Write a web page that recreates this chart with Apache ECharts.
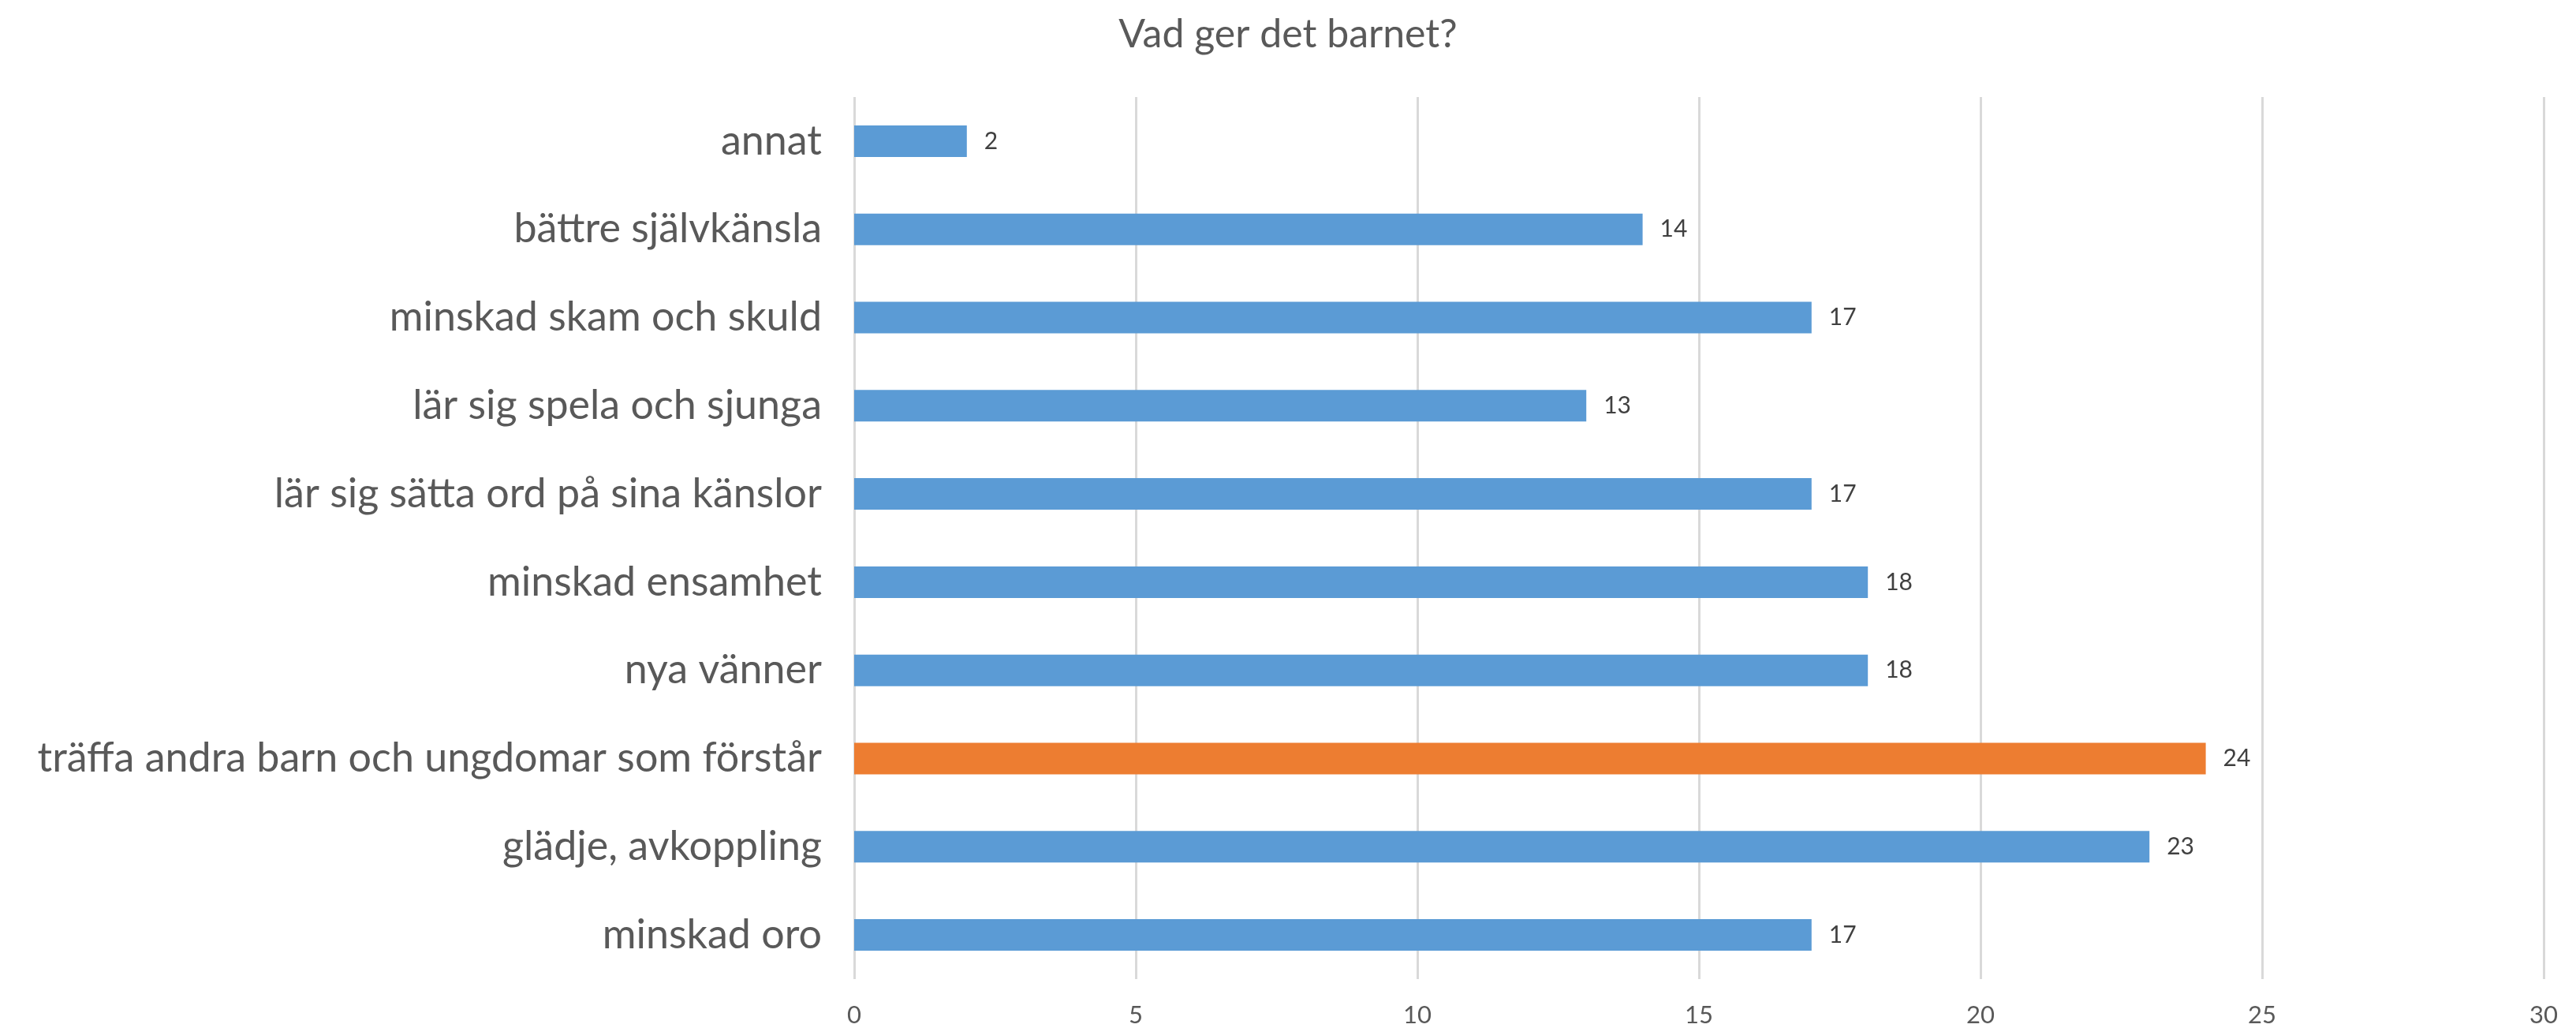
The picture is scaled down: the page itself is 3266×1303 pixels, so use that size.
<!DOCTYPE html>
<html>
	<head>
		<meta charset="utf-8">
		<script type="text/javascript" src="https://cdn.jsdelivr.net/npm/echarts@6/dist/echarts.min.js"></script>
		<style>
			html, body { margin: 0; padding: 0; background: #fff; }
		</style>
	</head>
	<body>
		<div id="main" style="width:3266px;height:1303px;"></div>

		<script type="text/javascript">
			// kategorier nerifrån och upp (som i diagrammet)
			var kategorier = [
				'minskad oro',
				'glädje, avkoppling',
				'träffa andra barn och ungdomar som förstår',
				'nya vänner',
				'minskad ensamhet',
				'lär sig sätta ord på sina känslor',
				'lär sig spela och sjunga',
				'minskad skam och skuld',
				'bättre självkänsla',
				'annat'
			];
			var antal = [17, 23, 24, 18, 18, 17, 13, 17, 14, 2];
			// den markerade stapeln
			var markerad = 'träffa andra barn och ungdomar som förstår';

			var font = 'Lato, "Noto Sans", sans-serif';
			var myChart = echarts.init(document.getElementById('main'));

			var option = {
				backgroundColor: '#fff',
				animation: false,
				title: {
					text: 'Vad ger det barnet?',
					left: 'center',
					top: 14,
					textStyle: {
						color: '#595959',
						fontFamily: font,
						fontWeight: 'normal',
						fontSize: 50
					}
				},
				grid: {
					left: 1083,
					right: 41,
					top: 123,
					bottom: 62
				},
				xAxis: {
					type: 'value',
					min: 0,
					max: 30,
					interval: 5,
					axisLine: { show: false },
					axisTick: { show: false },
					splitLine: {
						show: true,
						lineStyle: { color: '#D9D9D9', width: 3 }
					},
					axisLabel: {
						color: '#595959',
						fontFamily: font,
						fontSize: 31,
						margin: 30
					}
				},
				yAxis: {
					type: 'category',
					data: kategorier,
					axisLine: { show: false },
					axisTick: { show: false },
					axisLabel: {
						color: '#595959',
						fontFamily: font,
						fontSize: 52,
						margin: 41
					}
				},
				series: [{
					type: 'bar',
					barWidth: 40,
					data: antal.map(function (v, i) {
						return {
							value: v,
							itemStyle: { color: kategorier[i] === markerad ? '#ED7D31' : '#5B9BD5' }
						};
					}),
					label: {
						show: true,
						position: 'right',
						distance: 22,
						color: '#404040',
						fontFamily: font,
						fontSize: 30
					}
				}]
			};

			myChart.setOption(option);
		</script>
	</body>
</html>
